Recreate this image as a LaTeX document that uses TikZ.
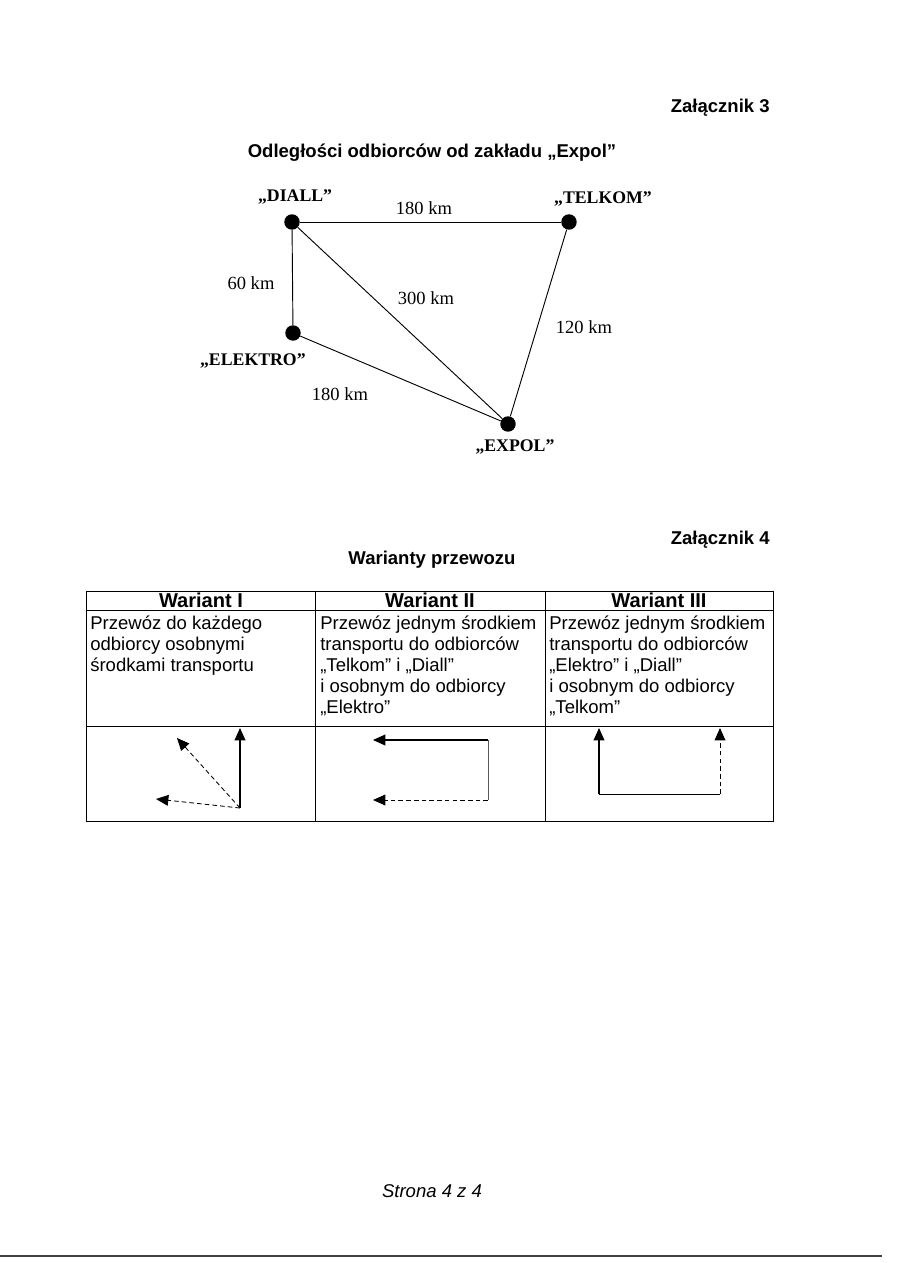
\documentclass[tikz,border=0pt]{standalone}
\usepackage{fontspec}
\setmainfont{Liberation Sans}
\newfontfamily\timesrm{Liberation Serif}
\usetikzlibrary{arrows.meta,positioning}

\begin{document}
\begin{tikzpicture}[x=0.648pt, y=-0.648pt,
  dot/.style={circle, fill=black, inner sep=0pt, minimum size=10pt},
  place/.style={font=\timesrm\bfseries\fontsize{11.5pt}{13pt}\selectfont, inner sep=0pt},
  dist/.style={font=\timesrm\fontsize{12pt}{14pt}\selectfont, inner sep=0pt},
  edge/.style={line width=0.6pt},
  title/.style={font=\bfseries\fontsize{12pt}{14pt}\selectfont, inner sep=0pt},
  head/.style={font=\bfseries\fontsize{13pt}{15pt}\selectfont, inner sep=0pt},
  cell/.style={font=\fontsize{12pt}{13.6pt}\selectfont, align=left,
               inner sep=0pt, anchor=north west},
  grid/.style={line width=0.6pt},
  arr/.style={-{Triangle[length=8pt,width=7pt]}, line width=0.8pt},
  darr/.style={arr, line width=0.55pt, dash pattern=on 3pt off 2pt},
  node distance=6pt
]
  \fill[white] (0,0) rectangle (918,1263);
  \useasboundingbox (0,0) rectangle (918,1263);

  % Zalacznik 3: distances
  \node[title, anchor=east] (zal3) at (770,108) {Załącznik 3};
  \node[title] (tyt3) at (432,153) {Odległości odbiorców od zakładu „Expol”};

  \node[dot] (diall)   at (292,222) {};
  \node[dot] (telkom)  at (569,222) {};
  \node[dot] (elektro) at (293,333) {};
  \node[dot] (expol)   at (508,424) {};
  \node[place] (ldiall)   [above=6pt of diall, xshift=2pt]     {„DIALL”};
  \node[place] (ltelkom)  [above=5pt of telkom, xshift=22pt]   {„TELKOM”};
  \node[place] (lelektro) [below=8pt of elektro, xshift=-26pt] {„ELEKTRO”};
  \node[place] (lexpol)   [below=5pt of expol, xshift=4.5pt]   {„EXPOL”};

  \draw[edge] (diall) -- (telkom);   \draw[edge] (diall) -- (elektro);
  \draw[edge] (diall) -- (expol);    \draw[edge] (telkom) -- (expol);
  \draw[edge] (elektro) -- (expol);

  \node[dist] (km1) at (424,208) {180 km};
  \node[dist] (km2) at (251,283) {60 km};
  \node[dist] (km3) at (426,298) {300 km};
  \node[dist] (km4) at (584,327) {120 km};
  \node[dist] (km5) at (340,394) {180 km};

  % Zalacznik 4: variants
  \node[title, anchor=east] (zal4) at (770,540) {Załącznik 4};
  \node[title] (tyt4) at (432,560) {Warianty przewozu};

  \draw[grid] (86,591) rectangle (773,821);
  \draw[grid] (86,610) -- (773,610);
  \draw[grid] (86,726) -- (773,726);
  \draw[grid] (315,591) -- (315,821);
  \draw[grid] (545,591) -- (545,821);

  \node[head] (h1) at (201,600) {Wariant I};
  \node[head] (h2) at (430,600) {Wariant II};
  \node[head] (h3) at (659,600) {Wariant III};

  \node[cell] (t1) at (90,616)  {Przewóz do każdego\\odbiorcy osobnymi\\środkami transportu};
  \node[cell] (t2) at (320,616) {Przewóz jednym środkiem\\transportu do odbiorców\\„Telkom” i „Diall”\\i osobnym do odbiorcy\\„Elektro”};
  \node[cell] (t3) at (549,616) {Przewóz jednym środkiem\\transportu do odbiorców\\„Elektro” i „Diall”\\i osobnym do odbiorcy\\„Telkom”};

  \coordinate (a0) at (240,808);
  \coordinate (a1) at (240,728);
  \coordinate (a2) at (177,738);
  \coordinate (a3) at (156,799);
  \draw[arr]  (a0) -- (a1);
  \draw[darr] (a0) -- (a2);
  \draw[darr] (a0) -- (a3);

  \coordinate (b0) at (488,740);
  \coordinate (b1) at (373,740);
  \coordinate (b2) at (488,800);
  \coordinate (b3) at (373,800);
  \draw[arr]  (b0) -- (b1);
  \draw[line width=0.4pt, black!65] (b0) -- (b2);
  \draw[darr] (b2) -- (b3);

  \coordinate (c0) at (599,794);
  \coordinate (c1) at (599,728);
  \coordinate (c2) at (720,794);
  \coordinate (c3) at (720,728);
  \draw[arr]  (c0) -- (c1);
  \draw[edge] (c0) -- (c2);
  \draw[darr] (c2) -- (c3);

  \node[font=\itshape\fontsize{12pt}{14pt}\selectfont] (foot) at (432,1191) {Strona 4 z 4};
  \coordinate (rl) at (0,1256);
  \coordinate (rr) at (882,1256);
  \draw[line width=1.2pt, black!75] (rl) -- (rr);
\end{tikzpicture}
\end{document}
